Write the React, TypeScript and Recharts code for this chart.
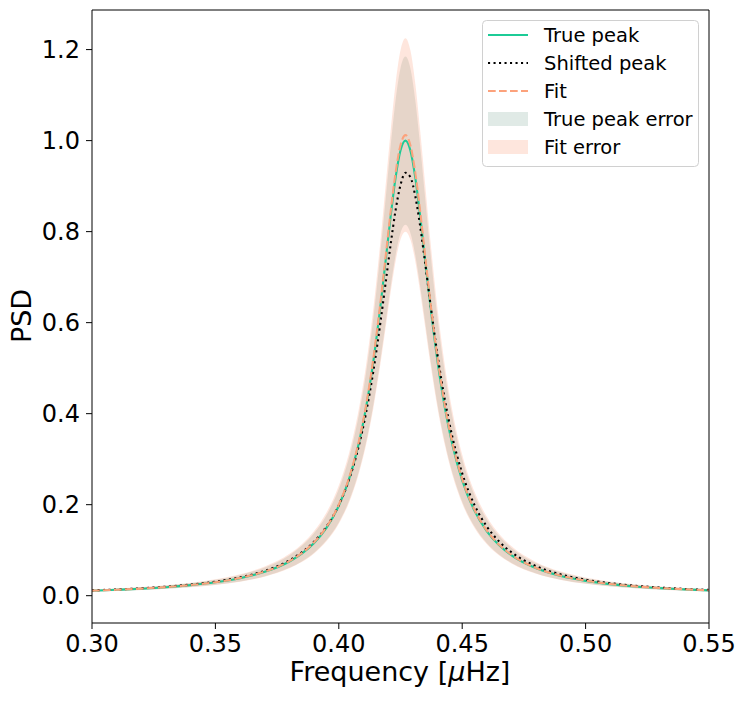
/* ── PSD peak: true vs shifted vs fit, with error bands ── */

import {
  ComposedChart,
  Line,
  Area,
  XAxis,
  YAxis,
} from "recharts";

const frequency = [
  0.3, 0.31, 0.32, 0.33, 0.34, 0.35, 0.36, 0.37, 0.38, 0.385, 0.39, 0.395,
  0.4, 0.404, 0.408, 0.411, 0.414, 0.417, 0.419, 0.421, 0.423, 0.425, 0.427,
  0.429, 0.431, 0.433, 0.435, 0.437, 0.44, 0.443, 0.446, 0.45, 0.455, 0.46,
  0.465, 0.47, 0.48, 0.49, 0.5, 0.51, 0.52, 0.53, 0.54, 0.55,
];

const truePeak = [
  0.011, 0.0130, 0.0154, 0.0187, 0.0232, 0.0294, 0.0385, 0.0524, 0.0752,
  0.0924, 0.116, 0.1492, 0.1976, 0.2534, 0.3322, 0.4122, 0.5151, 0.6423,
  0.7372, 0.833, 0.9182, 0.9782, 1.0, 0.9782, 0.9182, 0.833, 0.7372, 0.6423,
  0.5151, 0.4122, 0.3322, 0.2534, 0.1863, 0.1415, 0.1106, 0.0885, 0.0601,
  0.0433, 0.0326, 0.0254, 0.0203, 0.0166, 0.0139, 0.0117,
];

// shifted peak: slightly lower, a touch to the right and broader
const shiftedPeak = [
  0.0117, 0.0137, 0.0163, 0.0198, 0.0244, 0.0309, 0.0403, 0.0545, 0.0778,
  0.0952, 0.1188, 0.1517, 0.1991, 0.2526, 0.3267, 0.4006, 0.4934, 0.6058,
  0.6885, 0.7717, 0.8467, 0.9025, 0.9293, 0.9198, 0.8777, 0.8108, 0.7304,
  0.6466, 0.5288, 0.4293, 0.3494, 0.269, 0.1991, 0.1518, 0.1188, 0.0952,
  0.0647, 0.0466, 0.0351, 0.0273, 0.0219, 0.0179, 0.0149, 0.0126,
];

const fitPeak = [
  0.0111, 0.0131, 0.0156, 0.019, 0.0234, 0.0297, 0.039, 0.053, 0.0761,
  0.0935, 0.1174, 0.151, 0.2, 0.2564, 0.3362, 0.4171, 0.5213, 0.65, 0.746,
  0.843, 0.9292, 0.9899, 1.012, 0.9899, 0.9292, 0.843, 0.746, 0.65, 0.5213,
  0.4171, 0.3362, 0.2564, 0.1885, 0.1432, 0.1119, 0.0896, 0.0608, 0.0438,
  0.033, 0.0257, 0.0205, 0.0168, 0.0141, 0.0118,
];

const trueLow = [
  0.009, 0.0106, 0.0126, 0.0153, 0.0189, 0.024, 0.0314, 0.0427, 0.0613,
  0.0753, 0.0945, 0.1216, 0.161, 0.2065, 0.2707, 0.3359, 0.4198, 0.5235,
  0.6008, 0.6789, 0.7483, 0.7972, 0.815, 0.7972, 0.7483, 0.6789, 0.6008,
  0.5235, 0.4198, 0.3359, 0.2707, 0.2065, 0.1518, 0.1153, 0.0901, 0.0721,
  0.049, 0.0353, 0.0266, 0.0207, 0.0165, 0.0135, 0.0113, 0.0095,
];

const trueHigh = [
  0.013, 0.0153, 0.0183, 0.0222, 0.0275, 0.0348, 0.0456, 0.0621, 0.0891,
  0.1095, 0.1375, 0.1768, 0.2342, 0.3003, 0.3937, 0.4885, 0.6104, 0.7611,
  0.8736, 0.9871, 1.0881, 1.1592, 1.185, 1.1592, 1.0881, 0.9871, 0.8736,
  0.7611, 0.6104, 0.4885, 0.3937, 0.3003, 0.2208, 0.1677, 0.1311, 0.1049,
  0.0712, 0.0513, 0.0386, 0.0301, 0.0241, 0.0197, 0.0165, 0.0139,
];

const fitLow = [
  0.0088, 0.0104, 0.0124, 0.015, 0.0185, 0.0235, 0.0308, 0.0419, 0.0602,
  0.0739, 0.0928, 0.1194, 0.1581, 0.2027, 0.2658, 0.3298, 0.4121, 0.5138,
  0.5898, 0.6664, 0.7346, 0.7826, 0.8, 0.7826, 0.7346, 0.6664, 0.5898,
  0.5138, 0.4121, 0.3298, 0.2658, 0.2027, 0.149, 0.1132, 0.0885, 0.0708,
  0.0481, 0.0346, 0.0261, 0.0203, 0.0162, 0.0133, 0.0111, 0.0094,
];

const fitHigh = [
  0.0135, 0.0159, 0.0189, 0.0229, 0.0284, 0.036, 0.0472, 0.0642, 0.0921,
  0.1132, 0.1421, 0.1828, 0.2421, 0.3104, 0.4069, 0.5049, 0.631, 0.7868,
  0.9031, 1.0204, 1.1248, 1.1983, 1.225, 1.1983, 1.1248, 1.0204, 0.9031,
  0.7868, 0.631, 0.5049, 0.4069, 0.3104, 0.2282, 0.1733, 0.1355, 0.1084,
  0.0736, 0.053, 0.0399, 0.0311, 0.0249, 0.0203, 0.017, 0.0143,
];

const xTicks = [0.3, 0.35, 0.4, 0.45, 0.5, 0.55];
const yTicks = [0, 0.2, 0.4, 0.6, 0.8, 1.0, 1.2];

const GREEN = "#1ccb96";
const ORANGE = "#fca27c";
const FONT = "'DejaVu Sans', sans-serif";
const Y_DOMAIN: [number, number] = [-0.06, 1.287];

const chartData = frequency.map((f, i) => ({
  f,
  truePeak: truePeak[i],
  shifted: shiftedPeak[i],
  fit: fitPeak[i],
  trueBand: [trueLow[i], trueHigh[i]],
  fitBand: [fitLow[i], fitHigh[i]],
}));

const legendItems = [
  { label: "True peak", kind: "solid" },
  { label: "Shifted peak", kind: "dotted" },
  { label: "Fit", kind: "dashed" },
  { label: "True peak error", kind: "grayBox" },
  { label: "Fit error", kind: "orangeBox" },
];

function PeakLegend() {
  const w = 217;
  const h = 147;
  return (
    <svg width={w} height={h} style={{ display: "block" }}>
      <rect x={0.5} y={0.5} width={w - 1} height={h - 1} rx={4} fill="#fff" fillOpacity={0.8} stroke="#d0d0d0" />
      {legendItems.map((it, i) => {
        const cy = 15 + i * 28;
        let handle;
        if (it.kind === "solid") {
          handle = <line x1={6} x2={46} y1={cy} y2={cy} stroke={GREEN} strokeWidth={2.1} />;
        } else if (it.kind === "dotted") {
          handle = <line x1={6} x2={46} y1={cy} y2={cy} stroke="#000" strokeWidth={2.1} strokeDasharray="2.1 3.4" />;
        } else if (it.kind === "dashed") {
          handle = <line x1={6} x2={46} y1={cy} y2={cy} stroke={ORANGE} strokeWidth={2.1} strokeDasharray="7.7 3.3" />;
        } else if (it.kind === "grayBox") {
          handle = <rect x={6} y={cy - 7} width={40} height={14} fill="#3d7a66" fillOpacity={0.16} />;
        } else {
          handle = <rect x={6} y={cy - 7} width={40} height={14} fill="#fc8d62" fillOpacity={0.22} />;
        }
        return (
          <g key={it.label}>
            {handle}
            <text x={62} y={cy} dominantBaseline="central" fontSize={19.5} fontFamily={FONT} fill="#000">
              {it.label}
            </text>
          </g>
        );
      })}
    </svg>
  );
}

const tickStyle = { fontSize: 24, fontFamily: FONT, fill: "#000" };

export default function App() {
  return (
    <div style={{ position: "absolute", left: 0, top: 0, width: 747, height: 702, background: "#fff" }}>
      <ComposedChart
        width={747}
        height={702}
        data={chartData}
        margin={{ top: 9, right: 37, left: 0, bottom: 0 }}
      >
        <XAxis
          dataKey="f"
          type="number"
          domain={[0.3, 0.55]}
          ticks={xTicks}
          allowDataOverflow
          tickFormatter={(v: number) => v.toFixed(2)}
          tick={tickStyle}
          tickSize={6}
          tickMargin={6}
          height={79}
          stroke="#000"
          label={{
            content: () => (
              <text x={400} y={681} textAnchor="middle" fontSize={27} fontFamily={FONT} fill="#000">
                Frequency [<tspan fontStyle="italic">μ</tspan>Hz]
              </text>
            ),
          }}
        />
        <XAxis
          xAxisId="top"
          orientation="top"
          dataKey="f"
          type="number"
          domain={[0.3, 0.55]}
          tick={false}
          tickLine={false}
          height={1}
          stroke="#000"
        />
        <YAxis
          type="number"
          domain={Y_DOMAIN}
          ticks={yTicks}
          allowDataOverflow
          tickFormatter={(v: number) => v.toFixed(1)}
          tick={tickStyle}
          tickSize={6}
          tickMargin={6}
          width={92}
          stroke="#000"
          label={{
            content: () => (
              <text
                x={21}
                y={316}
                textAnchor="middle"
                dominantBaseline="central"
                transform="rotate(-90 21 316)"
                fontSize={27}
                fontFamily={FONT}
                fill="#000"
              >
                PSD
              </text>
            ),
          }}
        />
        <YAxis
          yAxisId="right"
          orientation="right"
          type="number"
          domain={Y_DOMAIN}
          tick={false}
          tickLine={false}
          width={1}
          stroke="#000"
        />
        <Area
          dataKey="trueBand"
          type="monotone"
          fill="#3d7a66"
          fillOpacity={0.16}
          stroke="none"
          isAnimationActive={false}
          name="True peak error"
        />
        <Area
          dataKey="fitBand"
          type="monotone"
          fill="#fc8d62"
          fillOpacity={0.22}
          stroke="none"
          isAnimationActive={false}
          name="Fit error"
        />
        <Line dataKey="truePeak" type="monotone" stroke={GREEN} strokeWidth={2.1} dot={false} isAnimationActive={false} name="True peak" />
        <Line
          dataKey="shifted"
          type="monotone"
          stroke="#000"
          strokeWidth={2.1}
          strokeDasharray="2.1 3.4"
          dot={false}
          isAnimationActive={false}
          name="Shifted peak"
        />
        <Line
          dataKey="fit"
          type="monotone"
          stroke={ORANGE}
          strokeWidth={2.1}
          strokeDasharray="7.7 3.3"
          dot={false}
          isAnimationActive={false}
          name="Fit"
        />
      </ComposedChart>
      <div style={{ position: "absolute", left: 482, top: 20 }}>
        <PeakLegend />
      </div>
    </div>
  );
}
